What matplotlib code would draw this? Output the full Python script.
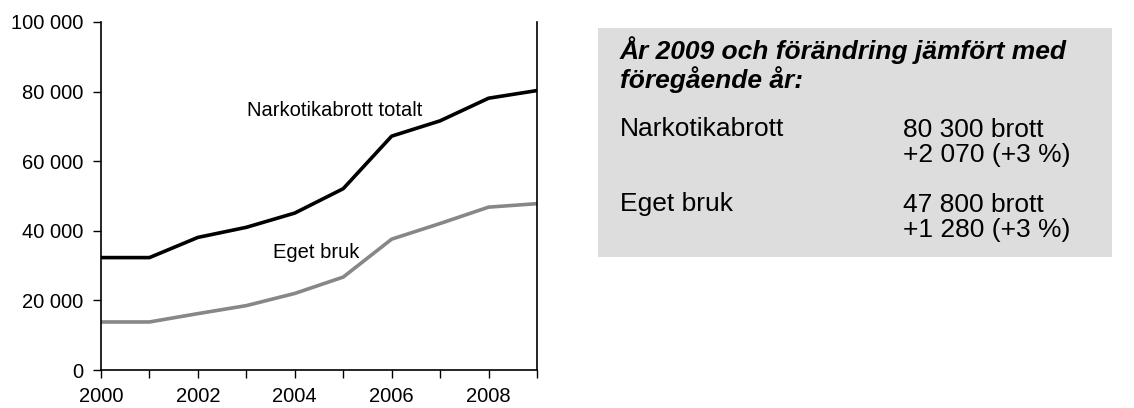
import matplotlib
matplotlib.use("Agg")
from matplotlib import pyplot as plt
from matplotlib.patches import Rectangle
from matplotlib.ticker import FuncFormatter

years = [2000, 2001, 2002, 2003, 2004, 2005, 2006, 2007, 2008, 2009]
narkotika = [32300, 32300, 38100, 41000, 45100, 52100, 67200, 71600, 78100, 80300]
eget_bruk = [13800, 13800, 16200, 18500, 22000, 26700, 37600, 42100, 46800, 47800]

box_title = "År 2009 och förändring jämfört med\nföregående år:"
box_names = ["Narkotikabrott", "Eget bruk"]
box_values = ["80 300 brott\n+2 070 (+3 %)", "47 800 brott\n+1 280 (+3 %)"]

plt.rcParams["font.family"] = ["Liberation Sans", "DejaVu Sans"]

W, H = 1134, 408
fig = plt.figure(figsize=(W / 100, H / 100), dpi=100)
ax = fig.add_axes([101 / W, 38 / H, 436 / W, 348 / H])

ax.plot(years, narkotika, color="black", lw=2.6)
ax.plot(years, eget_bruk, color="#878787", lw=2.6)

ax.set_xlim(2000, 2009)
ax.set_ylim(0, 100000)
ax.set_xticks(years)
ax.set_xticklabels([str(y) if y % 2 == 0 else "" for y in years])
ax.set_yticks(range(0, 100001, 20000))
ax.yaxis.set_major_formatter(FuncFormatter(lambda v, p: f"{int(v):,}".replace(",", " ")))
ax.tick_params(direction="out", length=5.5, width=1, labelsize=14.5, pad=7, right=False)
ax.spines["top"].set_visible(False)
for side in ["left", "bottom", "right"]:
    ax.spines[side].set_linewidth(1.2)

ax.text(2004.82, 74500, "Narkotikabrott totalt", fontsize=14.5, ha="center", va="center")
ax.text(2004.45, 33800, "Eget bruk", fontsize=14.5, ha="center", va="center")

# info box on the right (baseline of a multi-line text = baseline of its last line)
fig.patches.append(Rectangle((598 / W, 1 - 257 / H), 514 / W, (257 - 28) / H,
                             transform=fig.transFigure, facecolor="#dddddd",
                             edgecolor="none", zorder=0))
fig.text(620 / W, 1 - 88 / H, box_title, fontsize=19, fontweight="bold", fontstyle="italic",
         va="baseline", ha="left", linespacing=1.1)
for name, value, base in zip(box_names, box_values, [136, 211]):
    fig.text(620 / W, 1 - base / H, name, fontsize=19, va="baseline", ha="left")
    fig.text(903 / W, 1 - (base + 26) / H, value, fontsize=19, va="baseline", ha="left",
             linespacing=1.05)

fig.savefig("out.png", dpi=100)
